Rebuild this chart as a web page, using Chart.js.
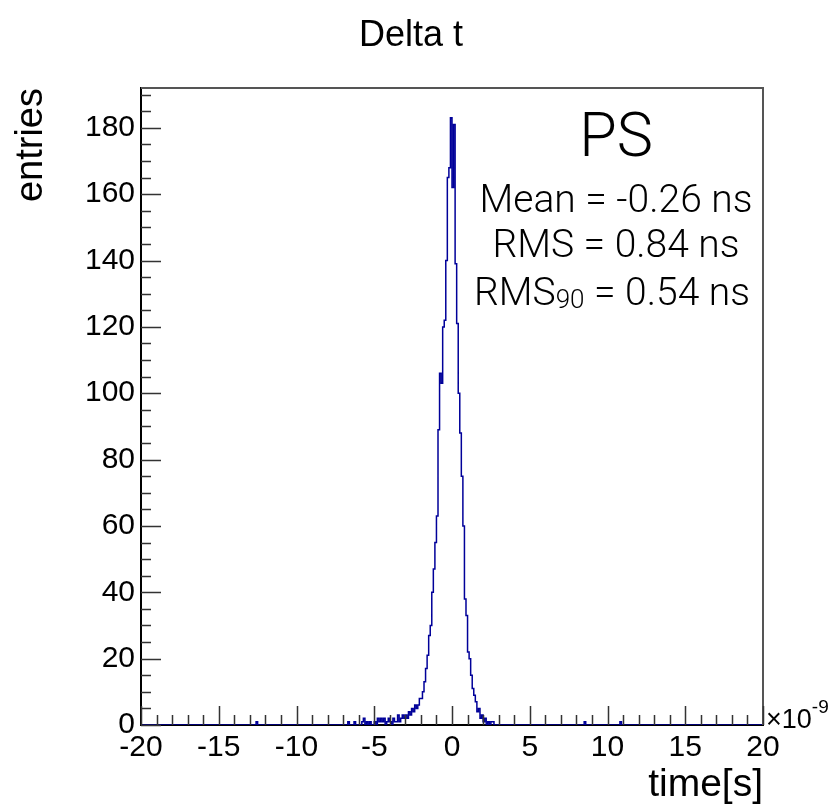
<!DOCTYPE html>
<html>
<head>
<meta charset="utf-8">
<script src="https://cdn.jsdelivr.net/npm/chart.js@4.4.1/dist/chart.umd.min.js"></script>
<style>
	body { margin: 0; background: #fff; }
	#graficoDeltaT { display: block; }
</style>
</head>
<body>
<canvas id="graficoDeltaT" width="831" height="809"></canvas>
<script>
// histograma Delta t, bins de 0.1 ns entre -20 e 20 (eixo em ns, x10^-9 s)
var binLargura = 0.1;
var eixoMin = -20;
var eixoMax = 20;

// contagens do nucleo, primeiro bin comeca em -7.0 ns
var nucleoInicio = -7.0;
var nucleoContagens = [
	0, 0, 0, 1, 0, 0, 0, 1, 0, 0,      // -7.0 .. -6.1
	0, 0, 1, 2, 0, 1, 0, 1, 0, 0,      // -6.0 .. -5.1
	1, 0, 2, 1, 2, 1, 2, 0, 1, 2,      // -5.0 .. -4.1
	1, 0, 2, 1, 1, 3, 1, 2, 3, 2,      // -4.0 .. -3.1
	3, 2, 4, 3, 5, 4, 6, 5, 6, 8,      // -3.0 .. -2.1
	8, 10, 13, 17, 21, 27, 30, 40, 47, 55,   // -2.0 .. -1.1
	63, 89, 106, 103, 120, 122, 140, 165, 168, 183, // -1.0 .. -0.1
	162, 181, 139, 121, 100, 88, 75, 60, 38, 33,    // 0.0 .. 0.9
	22, 20, 15, 11, 9, 7, 4, 5, 2, 3,  // 1.0 .. 1.9
	1, 2, 0, 1, 0, 1, 1, 0, 0, 0       // 2.0 .. 2.9
];

// entradas isoladas fora do nucleo
var isoladosTempo = [-12.6, 8.5, 10.8];
var isoladosContagem = [1, 1, 1];

var xTicks = [-20, -15, -10, -5, 0, 5, 10, 15, 20];
var yTicks = [0, 20, 40, 60, 80, 100, 120, 140, 160, 180];
var yMax = 192;

var titulo = 'Delta t';
var rotuloX = 'time[s]';
var rotuloY = 'entries';
var caixaTitulo = 'PS';
var textoMedia = 'Mean = -0.26 ns';
var textoRms = 'RMS = 0.84 ns';
var textoRms90 = ['RMS', '90', ' = 0.54 ns'];

var corHisto = '#000099';
var fonteBase = '"Liberation Sans", Arial, sans-serif';
var fonteFina = 'Roboto, "Open Sans", sans-serif';

function montaPontos() {
	var nBins = Math.round((eixoMax - eixoMin) / binLargura);
	var contagens = [];
	for (var i = 0; i < nBins; i++) contagens.push(0);
	var offset = Math.round((nucleoInicio - eixoMin) / binLargura);
	nucleoContagens.forEach(function(c, i) { contagens[offset + i] = c; });
	isoladosTempo.forEach(function(t, i) {
		contagens[Math.round((t - eixoMin) / binLargura)] = isoladosContagem[i];
	});
	var pontos = [];
	contagens.forEach(function(c, i) {
		pontos.push({ x: eixoMin + i * binLargura, y: c });
	});
	pontos.push({ x: eixoMax, y: 0 });
	return pontos;
}

var moldura = {
	id: 'moldura',
	afterDraw: function(chart) {
		var ctx = chart.ctx;
		var area = chart.chartArea;
		var sx = chart.scales.x;
		var sy = chart.scales.y;
		ctx.save();

		// moldura cinza em cima e a direita
		ctx.strokeStyle = '#555';
		ctx.lineWidth = 2;
		ctx.beginPath();
		ctx.moveTo(area.left, area.top);
		ctx.lineTo(area.right, area.top);
		ctx.lineTo(area.right, area.bottom);
		ctx.stroke();

		// tracos para dentro, estilo ROOT
		ctx.strokeStyle = '#333';
		ctx.lineWidth = 1.5;
		ctx.beginPath();
		for (var v = eixoMin; v <= eixoMax; v += 1) {
			var px = Math.round(sx.getPixelForValue(v)) + 0.5;
			var len = (v % 5 === 0) ? 19 : 10;
			ctx.moveTo(px, area.bottom);
			ctx.lineTo(px, area.bottom - len);
		}
		for (var w = 0; w <= yMax; w += 5) {
			var py = Math.round(sy.getPixelForValue(w)) + 0.5;
			var len2 = (w % 20 === 0) ? 20 : 10;
			ctx.moveTo(area.left, py);
			ctx.lineTo(area.left + len2, py);
		}
		ctx.stroke();

		ctx.fillStyle = '#000';
		ctx.textBaseline = 'alphabetic';

		// titulo
		ctx.font = '36px ' + fonteBase;
		ctx.textAlign = 'center';
		ctx.fillText(titulo, 411, 46);

		// x10^-9
		ctx.textAlign = 'left';
		ctx.font = '27px ' + fonteBase;
		ctx.fillText('\u00d710', 766, 728);
		var wx = ctx.measureText('\u00d710').width;
		ctx.font = '19px ' + fonteBase;
		ctx.fillText('-9', 766 + wx, 713);

		// caixa de estatisticas
		var cx = 616;
		ctx.textAlign = 'center';
		ctx.font = '300 61px ' + fonteFina;
		ctx.fillText(caixaTitulo, cx, 156);
		var fGrande = '300 39px ' + fonteFina;
		var fPequeno = '300 26px ' + fonteFina;
		ctx.font = fGrande;
		ctx.fillText(textoMedia, cx, 212);
		ctx.fillText(textoRms, cx, 257);

		var w1 = ctx.measureText(textoRms90[0]).width;
		var w3 = ctx.measureText(textoRms90[2]).width;
		ctx.font = fPequeno;
		var w2 = ctx.measureText(textoRms90[1]).width;
		var x0 = cx - 4 - (w1 + w2 + w3) / 2;
		ctx.textAlign = 'left';
		ctx.font = fGrande;
		ctx.fillText(textoRms90[0], x0, 305);
		ctx.font = fPequeno;
		ctx.fillText(textoRms90[1], x0 + w1, 308);
		ctx.font = fGrande;
		ctx.fillText(textoRms90[2], x0 + w1 + w2, 305);

		ctx.restore();
	}
};

var ctxGrafico = document.getElementById('graficoDeltaT').getContext('2d');
var graficoDeltaT = new Chart(ctxGrafico, {
	type: 'line',
	data: {
		datasets: [{
			label: titulo,
			data: montaPontos(),
			stepped: 'before',
			borderColor: corHisto,
			borderWidth: 1.5,
			pointRadius: 0,
			fill: false,
			tension: 0
		}]
	},
	options: {
		responsive: false,
		animation: false,
		layout: { padding: { top: 88, right: 68, left: 0, bottom: 0 } },
		plugins: {
			legend: { display: false },
			tooltip: { enabled: false }
		},
		scales: {
			x: {
				type: 'linear',
				min: eixoMin,
				max: eixoMax,
				grid: { display: false, drawTicks: false },
				border: { display: true, color: '#000', width: 2 },
				afterBuildTicks: function(s) { s.ticks = xTicks.map(function(v) { return { value: v }; }); },
				afterFit: function(s) { s.height = 84; },
				ticks: {
					color: '#000',
					padding: 5,
					maxRotation: 0,
					autoSkip: false,
					font: { family: fonteBase, size: 30 }
				},
				title: {
					display: true,
					text: rotuloX,
					align: 'end',
					color: '#000',
					padding: 0,
					font: { family: fonteBase, size: 39 }
				}
			},
			y: {
				type: 'linear',
				min: 0,
				max: yMax,
				grid: { display: false, drawTicks: false },
				border: { display: true, color: '#000', width: 2 },
				afterBuildTicks: function(s) { s.ticks = yTicks.map(function(v) { return { value: v }; }); },
				afterFit: function(s) { s.width = 141; },
				ticks: {
					color: '#000',
					padding: 6,
					autoSkip: false,
					font: { family: fonteBase, size: 30 }
				},
				title: {
					display: true,
					text: rotuloY,
					align: 'end',
					color: '#000',
					padding: { top: 9 },
					font: { family: fonteBase, size: 38 }
				}
			}
		}
	},
	plugins: [moldura]
});
</script>
</body>
</html>
